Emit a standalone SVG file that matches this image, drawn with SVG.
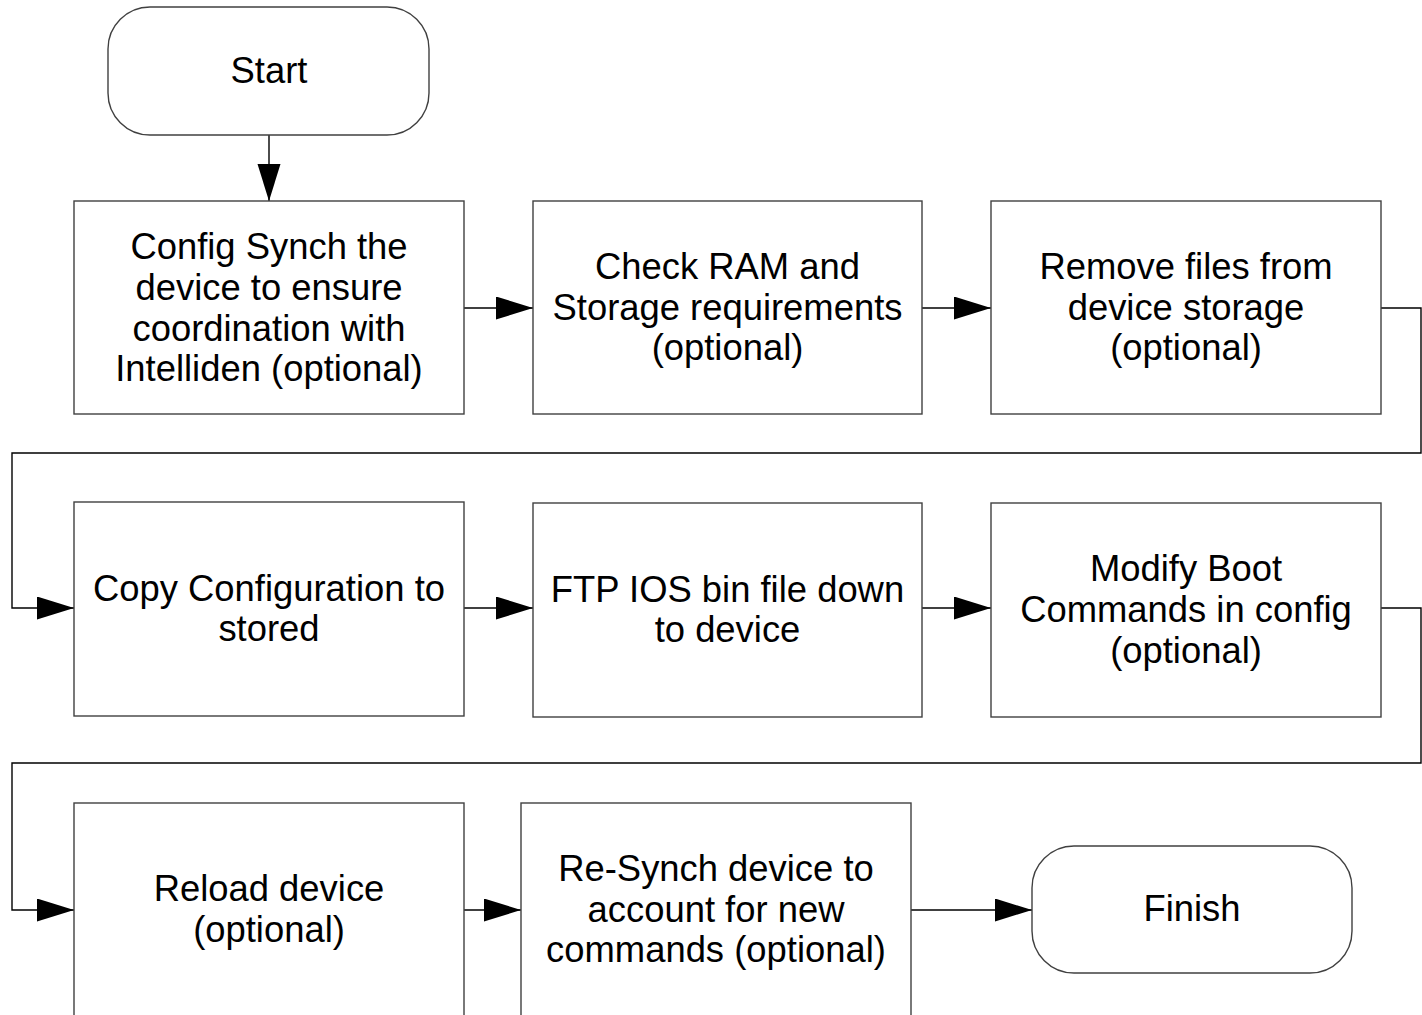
<svg xmlns="http://www.w3.org/2000/svg" width="1422" height="1015" viewBox="0 0 1422 1015">
  <style>
    .box { fill: #ffffff; stroke: #404040; stroke-width: 1.4; }
    .wire { fill: none; stroke: #000000; stroke-width: 1.4; }
    .lbl { font-family: "Liberation Sans", Arial, sans-serif; font-size: 36.4px; fill: #000000; text-anchor: middle; }
  </style>
  <defs>
    <marker id="arrow" markerUnits="userSpaceOnUse" markerWidth="38" markerHeight="24" refX="37" refY="11.5" orient="auto" viewBox="0 0 38 24">
      <path d="M0 0 L37 11.5 L0 23 Z" fill="#000000"/>
    </marker>
  </defs>
  <rect width="1422" height="1015" fill="#ffffff"/>

  <g id="connectors">
    <path class="wire" d="M269 135 V201" marker-end="url(#arrow)"/>
    <path class="wire" d="M464 308 H533" marker-end="url(#arrow)"/>
    <path class="wire" d="M922 308 H991" marker-end="url(#arrow)"/>
    <path class="wire" d="M1381 308 H1421 V453 H12 V608 H74" marker-end="url(#arrow)"/>
    <path class="wire" d="M464 608 H533" marker-end="url(#arrow)"/>
    <path class="wire" d="M922 608 H991" marker-end="url(#arrow)"/>
    <path class="wire" d="M1381 608 H1421 V763 H12 V910 H74" marker-end="url(#arrow)"/>
    <path class="wire" d="M464 910 H521" marker-end="url(#arrow)"/>
    <path class="wire" d="M911 910 H1032" marker-end="url(#arrow)"/>
  </g>

  <g id="start">
    <rect class="box" x="108" y="7" width="321" height="128" rx="42" ry="42"/>
    <text class="lbl" x="269" y="83">Start</text>
  </g>

  <g id="config-synch">
    <rect class="box" x="74" y="201" width="390" height="213"/>
    <text class="lbl" x="269" y="259">Config Synch the</text>
    <text class="lbl" x="269" y="300">device to ensure</text>
    <text class="lbl" x="269" y="341">coordination with</text>
    <text class="lbl" x="269" y="381">Intelliden (optional)</text>
  </g>

  <g id="check-ram">
    <rect class="box" x="533" y="201" width="389" height="213"/>
    <text class="lbl" x="727.5" y="279">Check RAM and</text>
    <text class="lbl" x="727.5" y="320">Storage requirements</text>
    <text class="lbl" x="727.5" y="360">(optional)</text>
  </g>

  <g id="remove-files">
    <rect class="box" x="991" y="201" width="390" height="213"/>
    <text class="lbl" x="1186" y="279">Remove files from</text>
    <text class="lbl" x="1186" y="320">device storage</text>
    <text class="lbl" x="1186" y="360">(optional)</text>
  </g>

  <g id="copy-config">
    <rect class="box" x="74" y="502" width="390" height="214"/>
    <text class="lbl" x="269" y="601">Copy Configuration to</text>
    <text class="lbl" x="269" y="641">stored</text>
  </g>

  <g id="ftp-ios">
    <rect class="box" x="533" y="503" width="389" height="214"/>
    <text class="lbl" x="727.5" y="602">FTP IOS bin file down</text>
    <text class="lbl" x="727.5" y="642">to device</text>
  </g>

  <g id="modify-boot">
    <rect class="box" x="991" y="503" width="390" height="214"/>
    <text class="lbl" x="1186" y="581">Modify Boot</text>
    <text class="lbl" x="1186" y="622">Commands in config</text>
    <text class="lbl" x="1186" y="663">(optional)</text>
  </g>

  <g id="reload">
    <rect class="box" x="74" y="803" width="390" height="220"/>
    <text class="lbl" x="269" y="901">Reload device</text>
    <text class="lbl" x="269" y="942">(optional)</text>
  </g>

  <g id="resynch">
    <rect class="box" x="521" y="803" width="390" height="220"/>
    <text class="lbl" x="716" y="881">Re-Synch device to</text>
    <text class="lbl" x="716" y="922">account for new</text>
    <text class="lbl" x="716" y="962">commands (optional)</text>
  </g>

  <g id="finish">
    <rect class="box" x="1032" y="846" width="320" height="127" rx="42" ry="42"/>
    <text class="lbl" x="1192" y="921">Finish</text>
  </g>
</svg>
